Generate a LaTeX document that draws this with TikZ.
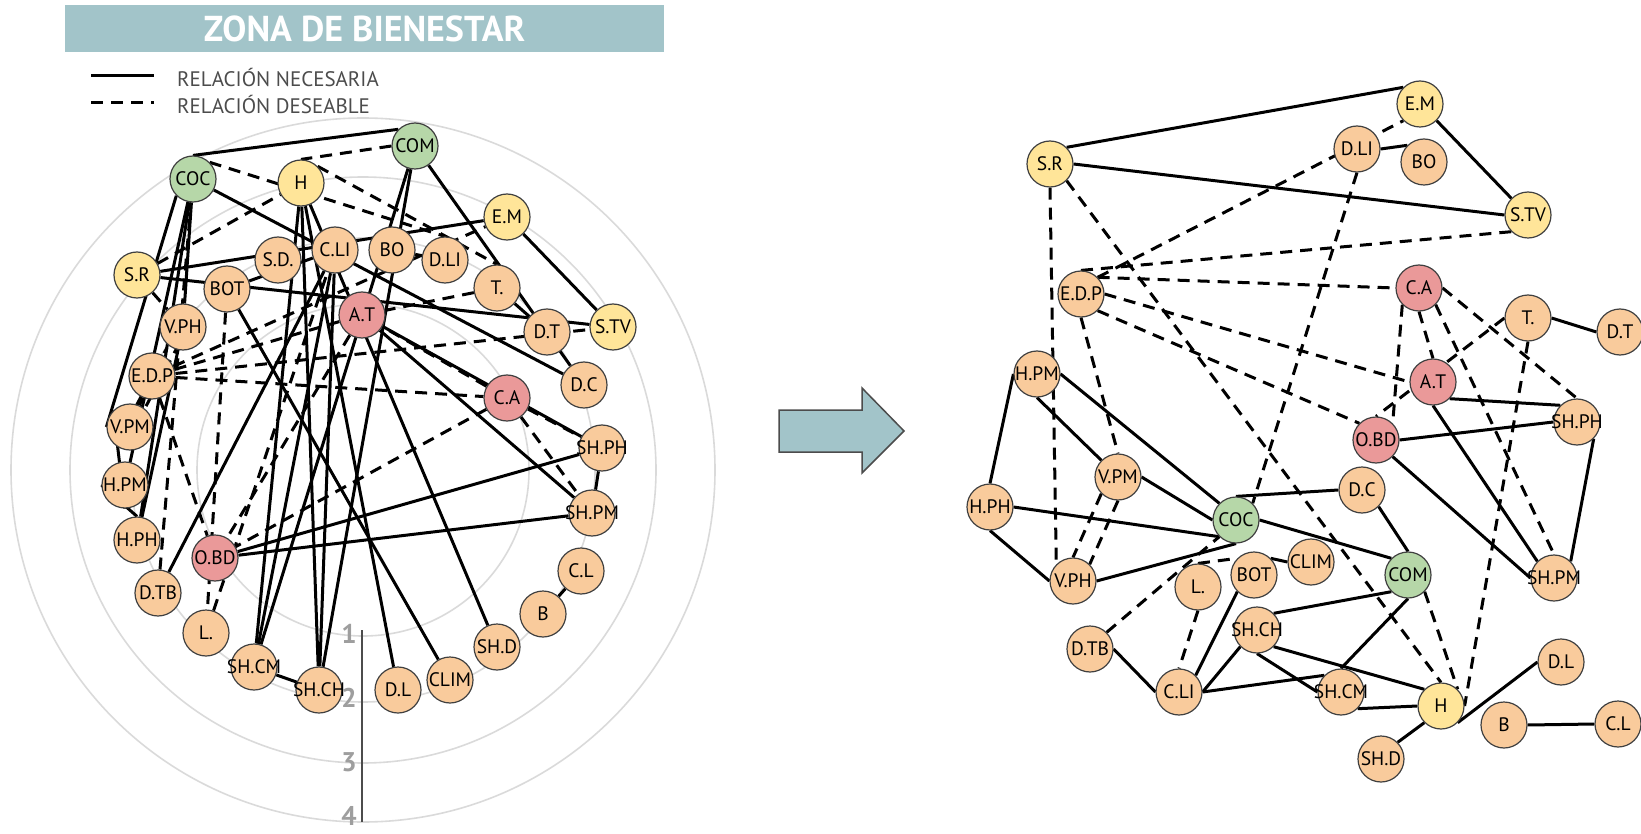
\documentclass[tikz,border=0pt]{standalone}
\usepackage{fontspec}
\setmainfont{PT Sans}
\usetikzlibrary{backgrounds}

\definecolor{peach}{HTML}{F9CB9C}
\definecolor{rose}{HTML}{EA9999}
\definecolor{sage}{HTML}{B6D7A8}
\definecolor{butter}{HTML}{FFE599}
\definecolor{banner}{HTML}{A2C4C9}
\definecolor{ringgray}{HTML}{DADADA}

% label that does not widen the circle
\newcommand\nm[1]{\makebox[0pt]{#1}}

\tikzset{
  var/.style={circle, draw=black!75, line width=1.2pt, minimum size=46pt, inner sep=0pt,
    text=black, font=\fontsize{19.5}{19.5}\selectfont},
  pe/.style={var, fill=peach},
  rd/.style={var, fill=rose},
  gr/.style={var, fill=sage},
  ye/.style={var, fill=butter},
  nec/.style={draw, line width=3pt},
  des/.style={nec, dash pattern=on 12pt off 8pt},
  ring/.style={draw=ringgray, line width=1.6pt},
  legend/.style={anchor=west, inner sep=0pt, text=black!70, font=\fontsize{21}{21}\selectfont},
  axisnum/.style={text=black!38, font=\fontsize{27}{27}\selectfont\bfseries},
}

\begin{document}
\begin{tikzpicture}[x=1pt,y=-1pt]
\useasboundingbox (0,0) rectangle (1641,834);

% title and legend
\node[fill=banner, minimum width=599pt, minimum height=47pt, inner sep=0pt, text=white,
  font=\fontsize{36}{36}\selectfont\bfseries] (title) at (364.5,28.5) {ZONA DE BIENESTAR};
\coordinate (nec1) at (91,76);  \coordinate (nec2) at (154,76);
\coordinate (des1) at (91,103); \coordinate (des2) at (154,103);
\path[nec] (nec1) -- (nec2);
\path[des] (des1) -- (des2);
\node[legend] (necl) at (177,77) {RELACIÓN NECESARIA};
\node[legend] (desl) at (177,104) {RELACIÓN DESEABLE};

% radial scale
\coordinate (o) at (363,470);
\coordinate (ax1) at (362,630); \coordinate (ax2) at (362,822);
\node[axisnum] (s1) at (349,634) {1};
\node[axisnum] (s2) at (349,698) {2};
\node[axisnum] (s3) at (349,762) {3};
\node[axisnum] (s4) at (349,816) {4};

% circular layout
\node[gr] (COC1) at (193,179) {\nm{COC}};
\node[ye] (H1) at (301,183) {\nm{H}};
\node[gr] (COM1) at (415,146) {\nm{COM}};
\node[ye] (EM1) at (507,217) {\nm{E.M}};
\node[ye] (SR1) at (137,275) {\nm{S.R}};
\node[pe] (BOT1) at (227,289) {\nm{BOT}};
\node[pe] (SD1) at (278,260) {\nm{S.D.}};
\node[pe] (CLI1) at (335,250) {\nm{C.LI}};
\node[pe] (BO1) at (392,250) {\nm{BO}};
\node[pe] (DLI1) at (445,260) {\nm{D.LI}};
\node[pe] (T1) at (497,288) {\nm{T.}};
\node[rd] (AT1) at (362,315) {\nm{A.T}};
\node[pe] (DT1) at (547,332) {\nm{D.T}};
\node[ye] (STV1) at (613,327) {\nm{S.TV}};
\node[pe] (VPH1) at (183,327) {\nm{V.PH}};
\node[pe] (EDP1) at (152,376) {\nm{E.D.P}};
\node[pe] (DC1) at (584,385) {\nm{D.C}};
\node[rd] (CA1) at (507,398) {\nm{C.A}};
\node[pe] (VPM1) at (130,427) {\nm{V.PM}};
\node[pe] (SHPH1) at (602,448) {\nm{SH.PH}};
\node[pe] (HPM1) at (125,485) {\nm{H.PM}};
\node[pe] (SHPM1) at (592,513) {\nm{SH.PM}};
\node[pe] (HPH1) at (137,540) {\nm{H.PH}};
\node[rd] (OBD1) at (215,558) {\nm{O.BD}};
\node[pe] (CL1) at (581,571) {\nm{C.L}};
\node[pe] (DTB1) at (158,593) {\nm{D.TB}};
\node[pe] (B1) at (543,614) {\nm{B}};
\node[pe] (L1) at (206,633) {\nm{L.}};
\node[pe] (SHD1) at (497,647) {\nm{SH.D}};
\node[pe] (SHCM1) at (254,667) {\nm{SH.CM}};
\node[pe] (SHCH1) at (319,690) {\nm{SH.CH}};
\node[pe] (DL1) at (398,690) {\nm{D.L}};
\node[pe] (CLIM1) at (450,680) {\nm{CLIM}};

% free layout
\node[ye] (EM2) at (1420,104) {\nm{E.M}};
\node[ye] (SR2) at (1050,164) {\nm{S.R}};
\node[pe] (DLI2) at (1357,149) {\nm{D.LI}};
\node[pe] (BO2) at (1424,162) {\nm{BO}};
\node[ye] (STV2) at (1528,215) {\nm{S.TV}};
\node[pe] (EDP2) at (1081,294) {\nm{E.D.P}};
\node[rd] (CA2) at (1419,288) {\nm{C.A}};
\node[pe] (T2) at (1528,318) {\nm{T.}};
\node[pe] (DT2) at (1620,332) {\nm{D.T}};
\node[pe] (HPM2) at (1037,374) {\nm{H.PM}};
\node[rd] (AT2) at (1433,382) {\nm{A.T}};
\node[pe] (SHPH2) at (1577,422) {\nm{SH.PH}};
\node[rd] (OBD2) at (1376,440) {\nm{O.BD}};
\node[pe] (VPM2) at (1118,477) {\nm{V.PM}};
\node[pe] (DC2) at (1362,490) {\nm{D.C}};
\node[pe] (HPH2) at (990,507) {\nm{H.PH}};
\node[gr] (COC2) at (1236,520) {\nm{COC}};
\node[pe] (CLIM2) at (1311,562) {\nm{CLIM}};
\node[pe] (BOT2) at (1254,575) {\nm{BOT}};
\node[gr] (COM2) at (1408,575) {\nm{COM}};
\node[pe] (SHPM2) at (1554,578) {\nm{SH.PM}};
\node[pe] (L2) at (1198,587) {\nm{L.}};
\node[pe] (VPH2) at (1073,581) {\nm{V.PH}};
\node[pe] (SHCH2) at (1257,630) {\nm{SH.CH}};
\node[pe] (DTB2) at (1090,649) {\nm{D.TB}};
\node[pe] (DL2) at (1561,662) {\nm{D.L}};
\node[pe] (CLI2) at (1179,692) {\nm{C.LI}};
\node[pe] (SHCM2) at (1341,692) {\nm{SH.CM}};
\node[ye] (H2) at (1441,706) {\nm{H}};
\node[pe] (B2) at (1504,725) {\nm{B}};
\node[pe] (CL2) at (1618,724) {\nm{C.L}};
\node[pe] (SHD2) at (1381,759) {\nm{SH.D}};

\begin{pgfonlayer}{background}
\foreach \r in {166,232,293,352}
  \draw[ring] (o) circle[radius=\r];
\path[draw=black!70,line width=1.3pt] (ax1) -- (ax2);

% necessary relations, circular layout
\path[nec] (SR1) -- (EM1);     \path[nec] (SR1) -- (STV1);
\path[nec] (EM1) -- (STV1);    \path[nec] (DLI1) -- (BO1);
\path[nec] (T1) -- (DT1);      \path[nec] (AT1) -- (SHPH1);
\path[nec] (OBD1) -- (SHPH1);  \path[nec] (SHPH1) -- (SHPM1);
\path[nec] (AT1) -- (SHPM1);   \path[nec] (OBD1) -- (SHPM1);
\path[nec] (HPM1.west) -- (HPH1.north);
\path[nec] (HPM1.south) -- (VPM1.north west);
\path[nec] (HPM1) -- (COC1);
\path[nec] (VPM1.west) -- (COC1.south west);
\path[nec] (HPH1) -- (COC1);   \path[nec] (HPH1) -- (VPH1);
\path[nec] (VPH1) -- (COC1);   \path[nec] (COC1) -- (DC1);
\path[nec] (COC1.north) -- (COM1.north west);
\path[nec] (DC1) -- (COM1);
\path[nec] (BOT1) -- (CLIM1);  \path[nec] (BOT1) -- (CLI1);
\path[nec] (SHCH1) -- (COM1);  \path[nec] (SHCH1) -- (CLI1);
\path[nec] (SHCH1) -- (SHCM1); \path[nec] (SHCH1) -- (H1);
\path[nec] (CLI1) -- (SHCM1);  \path[nec] (COM1) -- (SHCM1);
\path[nec] (DTB1) -- (CLI1);   \path[nec] (SHCM1) -- (H1);
\path[nec] (H1) -- (SHD1);     \path[nec] (H1) -- (DL1);
\path[nec] (B1) -- (CL1);

% desirable relations, circular layout
\path[des] (SR1) -- (VPH1);    \path[des] (SR1) -- (H1);
\path[des] (EDP1) -- (EM1);    \path[des] (EDP1) -- (STV1);
\path[des] (EDP1) -- (CA1);    \path[des] (EDP1) -- (AT1);
\path[des] (EDP1) -- (OBD1);   \path[des] (EDP1) -- (VPM1);
\path[des,transform canvas={xshift=-5pt}] (VPM1) -- (VPH1);
\path[des,transform canvas={xshift=5pt}] (VPM1) -- (VPH1);
\path[des] (COC1.north east) -- (DLI1.north);
\path[des] (COM1.west) -- (H1.north);
\path[des] (H1.north east) -- (T1.north);
\path[des] (CA1) -- (OBD1);
\path[des] (CA1) -- (AT1);     \path[des] (CA1) -- (SHPM1);
\path[des] (CA1) -- (SHPH1);   \path[des] (T1) -- (AT1);
\path[des] (AT1) -- (OBD1);    \path[des] (DTB1) -- (COC1);
\path[des] (L1) -- (CLI1);     \path[des] (BOT1) -- (L1);

% necessary relations, free layout
\path[nec] (SR2.north east) -- (EM2.north west);
\path[nec] (SR2.east) -- (STV2.west);
\path[nec] (EM2.south east) -- (STV2.north west);
\path[nec] (DLI2.east) -- (BO2.north west);
\path[nec] (T2.east) -- (DT2.west);
\path[nec] (AT2.south east) -- (SHPH2.north west);
\path[nec] (OBD2.east) -- (SHPH2.west);
\path[nec] (SHPH2.south east) -- (SHPM2.north east);
\path[nec] (AT2.south) -- (SHPM2.north west);
\path[nec] (OBD2.south east) -- (SHPM2.west);
\path[nec] (HPM2.west) -- (HPH2.north);
\path[nec] (HPM2.south) -- (VPM2.north west);
\path[nec] (HPM2.east) -- (COC2.north west);
\path[nec] (VPM2.east) -- (COC2.west);
\path[nec] (HPH2.east) -- (COC2.south west);
\path[nec] (HPH2.south) -- (VPH2.west);
\path[nec] (VPH2.east) -- (COC2.south);
\path[nec] (COC2.north) -- (DC2.west);
\path[nec] (COC2.east) -- (COM2.north west);
\path[nec] (DC2.south east) -- (COM2.north);
\path[nec] (BOT2.north east) -- (CLIM2.west);
\path[nec] (BOT2.south west) -- (CLI2.north east);
\path[nec] (SHCH2.north east) -- (COM2.south west);
\path[nec] (SHCH2.south west) -- (CLI2.east);
\path[nec] (SHCH2.south) -- (SHCM2.west);
\path[nec] (SHCH2.south east) -- (H2.north west);
\path[nec] (CLI2.east) -- (SHCM2.north west);
\path[nec] (COM2.south) -- (SHCM2.north);
\path[nec] (DTB2.east) -- (CLI2.west);
\path[nec] (SHCM2.south east) -- (H2.west);
\path[nec] (H2.south west) -- (SHD2.north east);
\path[nec] (H2.south east) -- (DL2.west);
\path[nec] (B2.east) -- (CL2.west);

% desirable relations, free layout
\path[des] (SR2.south) -- (VPH2.north west);
\path[des] (SR2.south east) -- (H2.north);
\path[des] (EDP2.north east) -- (EM2.south west);
\path[des] (EDP2.north) -- (STV2.south west);
\path[des] (EDP2.north east) -- (CA2.west);
\path[des] (EDP2.east) -- (AT2.west);
\path[des] (EDP2.south east) -- (OBD2.north west);
\path[des] (EDP2.south) -- (VPM2.north);
\path[des] (VPM2.south west) -- (VPH2.north);
\path[des] (VPM2.south) -- (VPH2.north east);
\path[des] (DLI2.south) -- (COC2.north east);
\path[des] (COM2.south east) -- (H2.north east);
\path[des] (T2.south) -- (H2.east);
\path[des] (CA2.south west) -- (OBD2.north east);
\path[des] (CA2.south) -- (AT2.north);
\path[des] (CA2.south east) -- (SHPM2.north);
\path[des] (CA2.east) -- (SHPH2.north);
\path[des] (T2.west) -- (OBD2.north);
\path[des] (DTB2.north east) -- (COC2.south west);
\path[des] (L2.south) -- (CLI2.north);
\path[des] (L2.north) -- (BOT2.north west);
\end{pgfonlayer}

% arrow between the two layouts
\draw[fill=banner, draw=black!70, line width=1.5pt]
  (779,410) -- (862,410) -- (862,388) -- (904,431) -- (862,473) -- (862,452) -- (779,452) -- cycle;
\end{tikzpicture}
\end{document}
